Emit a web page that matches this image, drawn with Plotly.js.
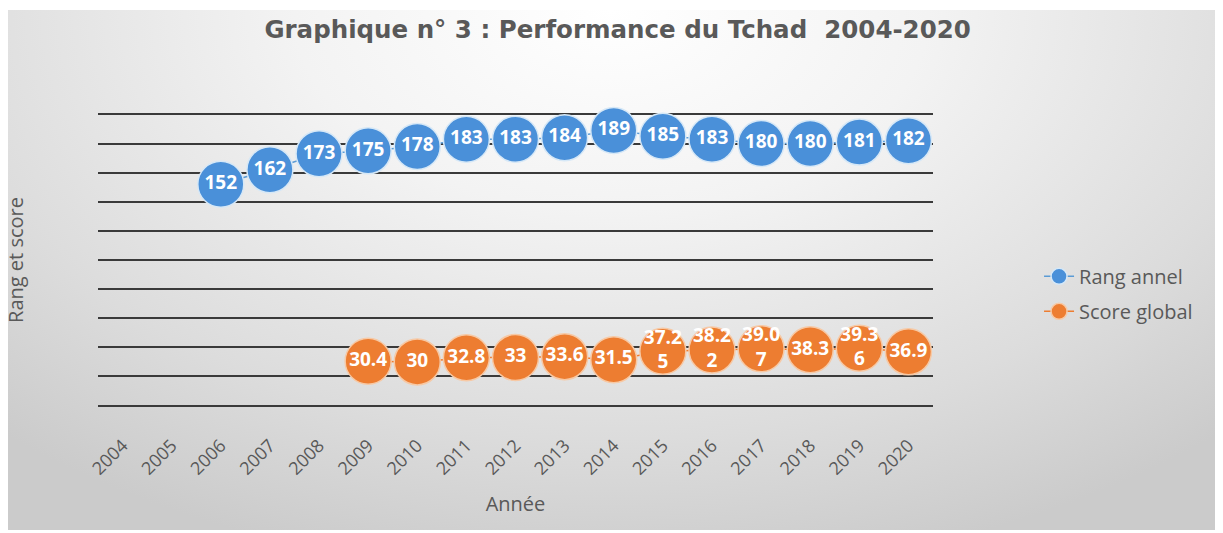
<!DOCTYPE html>
<html>
<head>
<meta charset="utf-8">
<script src="https://cdn.plot.ly/plotly-3.0.1.min.js"></script>
<style>
html,body{margin:0;padding:0;background:#ffffff;}
#bg{position:absolute;left:8px;top:10px;width:1207px;height:520px;
background:radial-gradient(ellipse 75% 110% at 50% 0%, #ffffff 0%, #f3f3f3 35%, #dcdcdc 75%, #cbcbcb 100%);}
#chart{position:absolute;left:0;top:0;width:1223px;height:533px;}
</style>
</head>
<body>
<div id="bg"></div>
<div id="chart"></div>
<script>
const years = ["2004","2005","2006","2007","2008","2009","2010","2011","2012","2013","2014","2015","2016","2017","2018","2019","2020"];
const rangAnnuel = [null,null,152,162,173,175,178,183,183,184,189,185,183,180,180,181,182];
const scoreGlobal = [null,null,null,null,null,30.4,30,32.8,33,33.6,31.5,37.25,38.22,39.07,38.3,39.36,36.9];

function labelOf(v){
  if(v===null) return "";
  const s = String(v);
  return s.length > 4 ? s.slice(0,4) + "<br>" + s.slice(4) : s;
}

const labelFont = {family:"Open Sans", size:19, color:"#ffffff", weight:700};

const traces = [
  {
    x: years, y: rangAnnuel, name: "Rang annel", legendgroup: "a",
    type: "scatter", mode: "lines+markers+text",
    text: rangAnnuel.map(labelOf), textposition: "middle center",
    textfont: labelFont,
    line: {color:"#5b9bd5", width:1.5},
    marker: {color:"#4a90d9", size:46, line:{color:"#d6e8f7", width:1.5}},
    hoverinfo: "skip", cliponaxis: false
  },
  {
    x: years, y: scoreGlobal, name: "Score global", legendgroup: "b",
    type: "scatter", mode: "lines+markers+text",
    text: scoreGlobal.map(labelOf), textposition: "middle center",
    textfont: labelFont,
    line: {color:"#ed7d31", width:1.5},
    marker: {color:"#ed7d31", size:46, line:{color:"#f7c9a5", width:1.5}},
    hoverinfo: "skip", cliponaxis: false
  }
];

const layout = {
  width: 1223, height: 533,
  margin: {l:98, r:290, t:113, b:126},
  paper_bgcolor: "rgba(0,0,0,0)",
  plot_bgcolor: "rgba(0,0,0,0)",
  font: {family:"Open Sans", color:"#595959"},
  title: {
    text: "Graphique n° 3 : Performance du Tchad  2004-2020",
    font: {family:"DejaVu Sans", size:24.5, color:"#595959", weight:700},
    x: 0.505, xanchor: "center", xref: "container", y: 0.945, yanchor: "middle"
  },
  xaxis: {
    type: "category", range: [-0.5, 16.5],
    showgrid: false, zeroline: false, showline: false,
    ticks: "outside", ticklen: 20, tickcolor: "rgba(0,0,0,0)",
    tickangle: -45, tickfont: {size:18, color:"#595959"},
    title: {text: "Année", font:{size:20, color:"#595959"}, standoff: 18}
  },
  yaxis: {
    range: [-1, 201], dtick: 20, tick0: 0,
    showticklabels: false, ticks: "",
    showgrid: true, gridcolor: "#3a3a3a", gridwidth: 2,
    zeroline: true, zerolinecolor: "#3a3a3a", zerolinewidth: 2,
    title: {text: "Rang et score", font:{size:20, color:"#595959"}, standoff: 68}
  },
  legend: {
    x: 1.127, xanchor: "left", y: 0.385, yanchor: "middle",
    bgcolor: "rgba(0,0,0,0)", traceorder: "grouped", tracegroupgap: 6,
    font: {size:20, color:"#595959"}
  },
  showlegend: true
};

Plotly.newPlot("chart", traces, layout, {displayModeBar:false, staticPlot:true});
</script>
</body>
</html>
